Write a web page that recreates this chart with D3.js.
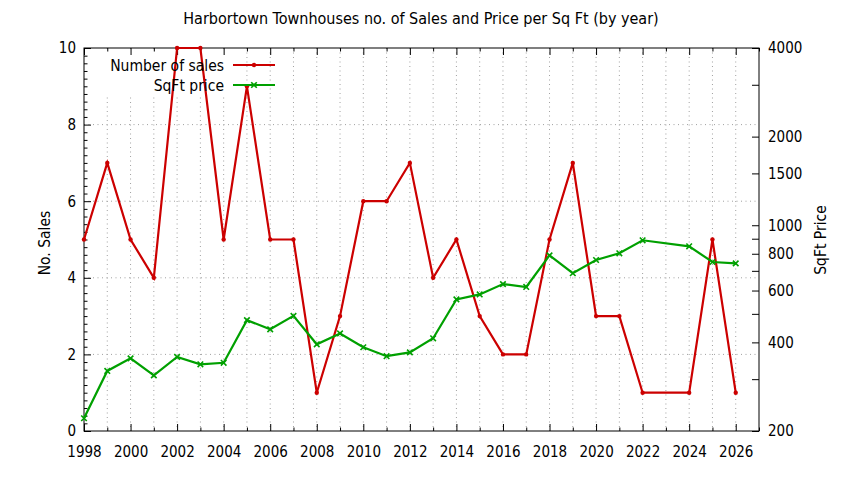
<!DOCTYPE html>
<html><head><meta charset="utf-8">
<script src="https://cdn.jsdelivr.net/npm/d3@7"></script>
<style>
body{margin:0;background:#fff;}
svg{display:block;font-family:"DejaVu Sans Condensed","DejaVu Sans",sans-serif;}
.axis path,.axis line{stroke:#000;stroke-width:1;}
.axis text{font-size:15px;fill:#000;font-family:"DejaVu Sans Condensed","DejaVu Sans",sans-serif;}
.grid line{stroke:#a0a0a0;stroke-width:1;stroke-dasharray:1,3.5;}
</style></head>
<body><svg id="c" width="844" height="480"></svg>
<script>
const title = "Harbortown Townhouses no. of Sales and Price per Sq Ft (by year)";
const salesYears = [1998,1999,2000,2001,2002,2003,2004,2005,2006,2007,2008,2009,2010,2011,2012,2013,2014,2015,2016,2017,2018,2019,2020,2021,2022,2024,2025,2026];
const salesCount = [5,7,5,4,10,10,5,9,5,5,1,3,6,6,7,4,5,3,2,2,5,7,3,3,1,1,5,1];
const priceYears = salesYears;
const priceSqFt = [221,320,353,309,357,337,341,476,443,492,394,429,385,359,370,413,560,582,631,617,790,687,762,803,889,848,750,742];
const xMajorTicks = [1998,2000,2002,2004,2006,2008,2010,2012,2014,2016,2018,2020,2022,2024,2026];
const xMinorTicks = [1999,2001,2003,2005,2007,2009,2011,2013,2015,2017,2019,2021,2023,2025,2027];
const yLeftTicks = [0,2,4,6,8,10];
const yLeftGrid = [2,4,6,8];
const yRightTicks = [200,400,600,800,1000,1500,2000,4000];
const yRightMinor = [300,500,700,900,3000];
const seriesNames = ["Number of sales","SqFt price"];

const svg = d3.select("#c");
const L=84,R=759,T=48,B=431;
const x = d3.scaleLinear().domain([1998,2027]).range([L,R]);
const yL = d3.scaleLinear().domain([0,10]).range([B,T]);
const yR = d3.scaleLog().domain([200,4000]).range([B,T]);
const red="#cc0000", green="#00a000";

// grid
const g = svg.append("g").attr("class","grid");
g.selectAll("line.v").data(xMajorTicks.concat(xMinorTicks).filter(d=>d>1998&&d<2027)).enter().append("line")
  .attr("x1",d=>x(d)).attr("x2",d=>x(d)).attr("y1",T).attr("y2",B);
g.selectAll("line.h").data(yLeftGrid).enter().append("line")
  .attr("x1",L).attr("x2",R).attr("y1",d=>yL(d)).attr("y2",d=>yL(d));
// key opaque area
svg.append("rect").attr("x",98).attr("y",T+1).attr("width",134).attr("height",46).attr("fill","#fff");

// axes
const ax = (gen,tx,ty)=>svg.append("g").attr("class","axis").attr("transform",`translate(${tx},${ty})`).call(gen);
ax(d3.axisBottom(x).tickValues(xMajorTicks).tickFormat(d3.format("d")).tickSize(-7).tickSizeOuter(0).tickPadding(15),0,B);
ax(d3.axisBottom(x).tickValues(xMinorTicks).tickFormat("").tickSize(-3.5).tickSizeOuter(0),0,B);
ax(d3.axisTop(x).tickValues(xMajorTicks).tickFormat("").tickSize(-7).tickSizeOuter(0),0,T);
ax(d3.axisTop(x).tickValues(xMinorTicks).tickFormat("").tickSize(-3.5).tickSizeOuter(0),0,T);
ax(d3.axisLeft(yL).tickValues(yLeftTicks).tickFormat(d3.format("d")).tickSize(-7).tickSizeOuter(0).tickPadding(8),L,0);
ax(d3.axisLeft(yL).tickValues(d3.range(0,10.01,0.2).filter(v=>Math.abs(v/2-Math.round(v/2))>1e-6)).tickFormat("").tickSize(-3.5).tickSizeOuter(0),L,0);
ax(d3.axisRight(yR).tickValues(yRightTicks).tickFormat(d3.format("d")).tickSize(-7).tickSizeOuter(0).tickPadding(9),R,0);
ax(d3.axisRight(yR).tickValues(yRightMinor).tickFormat("").tickSize(-7).tickSizeOuter(0),R,0);
svg.selectAll(".axis .domain").remove();
svg.append("rect").attr("x",L).attr("y",T).attr("width",R-L).attr("height",B-T).attr("fill","none").attr("stroke","#000").attr("stroke-width",1);

// lines
const salesData = salesYears.map((y,i)=>[y,salesCount[i]]);
const priceData = priceYears.map((y,i)=>[y,priceSqFt[i]]);
svg.append("path").datum(salesData).attr("fill","none").attr("stroke",red).attr("stroke-width",2.2)
  .attr("d",d3.line().x(d=>x(d[0])).y(d=>yL(d[1])));
svg.selectAll("circle.s").data(salesData).enter().append("circle")
  .attr("cx",d=>x(d[0])).attr("cy",d=>yL(d[1])).attr("r",2.2).attr("fill",red);
svg.append("path").datum(priceData).attr("fill","none").attr("stroke",green).attr("stroke-width",2.2)
  .attr("d",d3.line().x(d=>x(d[0])).y(d=>yR(d[1])));
const cross = d3.symbol().type(d3.symbolTimes).size(22);
svg.selectAll("path.p").data(priceData).enter().append("path")
  .attr("transform",d=>`translate(${x(d[0])},${yR(d[1])})`).attr("d",cross).attr("fill","none").attr("stroke",green).attr("stroke-width",1.6);

// legend
const lg = svg.append("g");
[[red,0],[green,1]].forEach(([c,i])=>{
  const yy = 65+i*20;
  lg.append("text").attr("x",224).attr("y",yy+5.5).attr("text-anchor","end").attr("font-size",15.5).text(seriesNames[i]);
  lg.append("line").attr("x1",233).attr("x2",275).attr("y1",yy).attr("y2",yy).attr("stroke",c).attr("stroke-width",2.2);
  if(i===0) lg.append("circle").attr("cx",254).attr("cy",yy).attr("r",2.2).attr("fill",c);
  else lg.append("path").attr("transform",`translate(254,${yy})`).attr("d",cross).attr("fill","none").attr("stroke",c).attr("stroke-width",1.6);
});

// titles
svg.append("text").attr("x",421).attr("y",24).attr("text-anchor","middle").attr("font-size",16).text(title);
svg.append("text").attr("transform","translate(50,243) rotate(-90)").attr("text-anchor","middle").attr("font-size",15.5).text("No. Sales");
svg.append("text").attr("transform","translate(826,240) rotate(-90)").attr("text-anchor","middle").attr("font-size",15.5).text("SqFt Price");
</script></body></html>
